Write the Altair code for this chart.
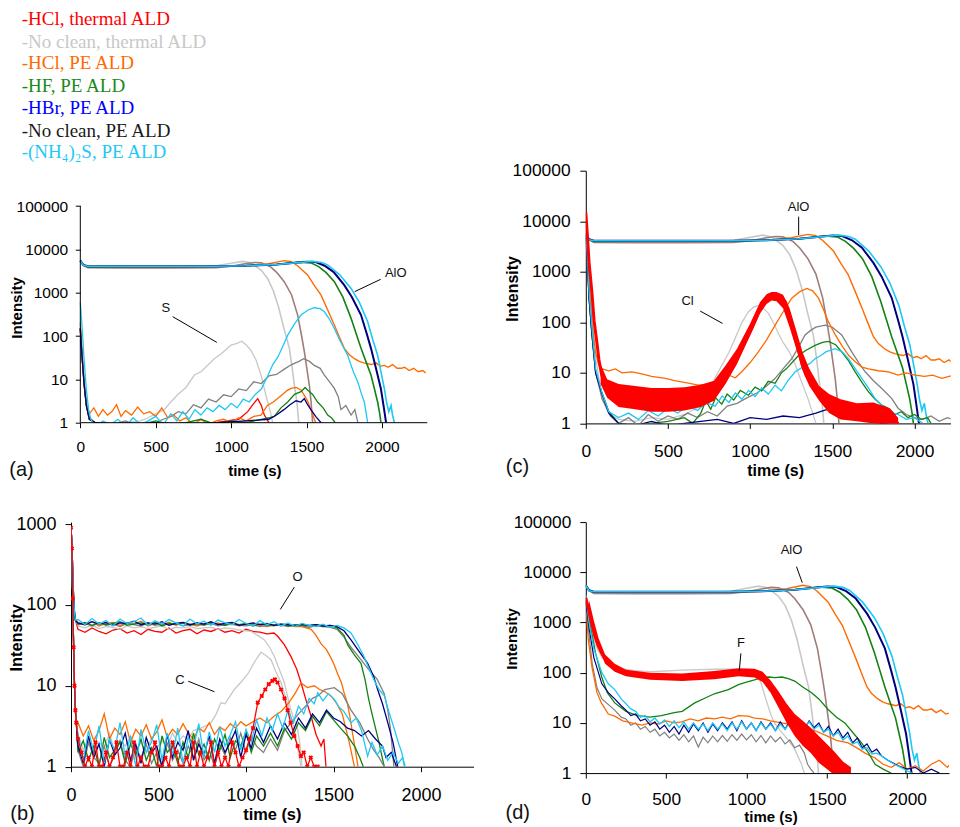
import altair as alt
import pandas as pd

SANS = "Liberation Sans"
SERIF = "Liberation Serif"

RED = "#ff0000"
LGRAY = "#c8c8c8"
ORANGE = "#ff6a00"
GREEN = "#128212"
NAVY = "#00007f"
GRAY = "#808080"
CYAN = "#1ec8f5"
BROWN = "#a07c7c"

LEGEND_LABELS = ["-HCl, thermal ALD", "-No clean, thermal ALD", "-HCl, PE ALD",
                 "-HF, PE ALD", "-HBr, PE ALD", "-No clean, PE ALD", "-(NH\u2084)\u2082S, PE ALD"]
LEGEND_COLORS = ["#ff0000", "#c8c8c8", "#ff6a00", "#1a8a1a", "#0000ff", "#1a1a1a", "#1ec8f5"]

TICKS_X = [0, 500, 1000, 1500, 2000]
TICKS_Y5 = [1, 10, 100, 1000, 10000, 100000]
TICKS_Y3 = [1, 10, 100, 1000]

# ---------------- AlO (same traces in panels a, c, d) ----------------
ALO_LGRAY_T = [0, 20, 50, 300, 600, 800, 900, 1000, 1076, 1130, 1200, 1242, 1280, 1314, 1350, 1386, 1405, 1419, 1436, 1448]
ALO_LGRAY_V = [5500, 4300, 3900, 3850, 3850, 3900, 4200, 4800, 5300, 4900, 3300, 2140, 1100, 470, 150, 52, 18, 7.4, 3, 1]
ALO_BROWN_T = [0, 20, 50, 300, 600, 900, 1000, 1100, 1154, 1200, 1260, 1300, 1352, 1400, 1441, 1465, 1485, 1505, 1518, 1530, 1540]
ALO_BROWN_V = [5500, 4300, 3800, 3750, 3750, 3800, 4100, 4700, 5000, 4900, 4000, 3000, 1800, 900, 305, 110, 44, 15, 7.4, 3, 1]
ALO_ORANGE_T = [0, 20, 50, 300, 600, 900, 1100, 1250, 1352, 1400, 1440, 1507, 1550, 1596, 1640, 1684, 1720, 1750, 1780, 1817,
                1850, 1880, 1905, 1930, 1960, 1990, 2016, 2040, 2070, 2100, 2126, 2150, 2180, 2210, 2240, 2270, 2290]
ALO_ORANGE_V = [5500, 4300, 4000, 4000, 4000, 4050, 4200, 4700, 5500, 5200, 4200, 2570, 1500, 880, 400, 180, 90, 52, 38, 30,
                26, 24, 23, 22, 24, 20, 21, 19, 22, 18, 18, 19, 16, 18, 15, 16, 14]
ALO_GREEN_T = [0, 20, 50, 300, 600, 900, 1100, 1300, 1450, 1529, 1580, 1630, 1684, 1740, 1795, 1830, 1861, 1895, 1927, 1950, 1971, 1985, 1993]
ALO_GREEN_V = [5500, 4300, 4000, 4050, 4050, 4100, 4200, 4500, 5100, 4900, 4000, 2900, 1800, 800, 256, 110, 52, 25, 12.6, 6, 3, 1.6, 1]
ALO_NAVY_T = [0, 20, 50, 300, 600, 900, 1100, 1300, 1500, 1560, 1620, 1680, 1750, 1800, 1861, 1900, 1927, 1960, 1993, 2010, 2027]
ALO_NAVY_V = [5500, 4400, 4100, 4100, 4100, 4100, 4200, 4500, 5200, 5100, 4200, 3000, 1500, 800, 305, 110, 52, 18, 6, 2.5, 1]
ALO_CYAN_T = [0, 20, 50, 300, 600, 900, 1100, 1300, 1540, 1600, 1640, 1720, 1795, 1850, 1905, 1940, 1971, 1995, 2016, 2030, 2045, 2060, 2070, 2082]
ALO_CYAN_V = [5500, 4300, 4100, 4100, 4100, 4100, 4200, 4500, 5300, 5000, 4400, 2600, 1260, 600, 214, 80, 36, 14, 6, 3, 1.8, 2.5, 1.5, 1]

# ---------------- (a) S ----------------
S_CYAN_T = [0, 10, 25, 40, 55, 70, 100, 150, 200, 250, 300, 350, 400, 450, 500, 550, 600, 640, 680, 720,
            760, 800, 840, 880, 920, 960, 1000, 1040, 1080, 1120, 1160, 1200, 1242, 1276, 1308, 1340, 1375, 1420, 1463, 1510,
            1551, 1590, 1618, 1650, 1684, 1720, 1772, 1810, 1839, 1865, 1883, 1905]
S_CYAN_V = [600, 200, 30, 6, 2, 1.2, 0.8, 1.1, 0.9, 1.2, 0.8, 1.3, 0.9, 1.1, 1.4, 0.9, 1.6, 1.1, 1.8, 1.2,
            2.0, 1.5, 2.2, 1.8, 2.5, 2.0, 2.8, 2.2, 3.5, 3.0, 4.5, 6, 12, 22, 32, 55, 105, 190, 305, 400,
            450, 430, 363, 250, 150, 80, 36, 15, 8.8, 4.5, 3, 1]
S_GRAY_T = [0, 10, 25, 40, 60, 100, 200, 300, 400, 500, 550, 600, 650, 700, 750, 800, 850, 900, 950, 1000,
            1050, 1100, 1150, 1200, 1250, 1300, 1350, 1400, 1450, 1480, 1520, 1551, 1590, 1618, 1650, 1684, 1710, 1728, 1760, 1795,
            1820, 1840]
S_GRAY_V = [150, 40, 8, 2.5, 1.3, 1, 0.9, 1.1, 0.8, 1, 1.2, 1.4, 1.8, 1.6, 2.6, 2.2, 3.5, 3, 4.4, 4,
            6, 5.5, 8.8, 8, 12, 13, 17, 22, 26, 30, 26, 21, 18, 12.6, 9, 6.2, 4, 2, 2.5, 1.5, 2, 1]
S_LGRAY_T = [0, 10, 25, 40, 60, 100, 200, 300, 400, 450, 500, 557, 600, 645, 700, 756, 800, 850, 888, 930,
             970, 999, 1040, 1070, 1100, 1131, 1165, 1198, 1220, 1242, 1260, 1275]
S_LGRAY_V = [150, 40, 8, 2.5, 1.3, 1, 0.9, 1, 1.1, 1.3, 1.6, 2, 3, 4.4, 6.5, 12.6, 15, 22, 30, 38,
             50, 62, 68, 76, 62, 47, 28, 12.6, 6, 3, 1.8, 1]
S_ORANGE_T = [0, 10, 25, 40, 60, 90, 120, 150, 180, 210, 240, 270, 300, 340, 380, 420, 460, 500, 540, 580,
              620, 660, 700, 750, 800, 850, 900, 950, 1000, 1050, 1100, 1150, 1198, 1240, 1280, 1308, 1340, 1370, 1397, 1430,
              1463, 1490, 1510, 1529, 1545, 1560]
S_ORANGE_V = [200, 60, 10, 3, 1.6, 2.2, 1.4, 2.0, 1.5, 1.8, 2.6, 1.4, 1.9, 1.5, 2.3, 1.6, 1.8, 1.4, 2.2, 1.3,
              1.5, 1.1, 1.3, 0.9, 1.2, 0.9, 1.1, 1.2, 1.0, 1.3, 1.1, 1.4, 1.5, 2.5, 3, 3.6, 4.5, 5.5, 6.2, 6.5,
              5.7, 4, 3, 2, 1.4, 1]
S_GREEN_T = [0, 10, 25, 40, 60, 100, 200, 300, 400, 500, 600, 700, 800, 900, 1000, 1100, 1200, 1250, 1286, 1330,
             1375, 1420, 1463, 1490, 1507, 1540, 1573, 1610, 1640, 1665, 1690]
S_GREEN_V = [150, 40, 8, 2.5, 1.2, 1, 0.9, 1, 0.9, 1.1, 0.9, 1, 1.2, 0.9, 1.1, 1, 1.2, 1.3, 1.4, 2.2,
             3, 4.5, 5.2, 6.5, 5.7, 4.5, 3, 2.2, 1.5, 1.3, 1]
S_NAVY_T = [0, 10, 25, 40, 60, 100, 300, 500, 700, 900, 1100, 1250, 1300, 1350, 1390, 1430, 1463, 1485, 1510, 1529, 1560, 1596]
S_NAVY_V = [150, 40, 8, 2.5, 1.2, 1, 0.9, 1, 0.9, 1, 1.1, 1.2, 1.5, 2, 2.6, 3.2, 3, 3.6, 2.5, 2, 1.4, 1]
S_RED_T = [0, 10, 25, 40, 60, 100, 300, 500, 700, 900, 1050, 1110, 1140, 1176, 1200, 1220, 1250]
S_RED_V = [150, 40, 8, 2.5, 1.2, 1, 0.9, 1, 0.9, 1, 1.2, 1.8, 2.5, 3.6, 2.5, 1.5, 1]

# ---------------- (c) Cl ----------------
CL_RED_T = [0, 10, 20, 37, 50, 67, 80, 97, 115, 138, 160, 190, 220, 250, 280, 320, 360, 400, 440, 483,
            520, 560, 600, 640, 685, 720, 760, 787, 820, 850, 887, 920, 949, 980, 1010, 1040, 1071, 1100, 1132, 1160,
            1192, 1215, 1233, 1255, 1274, 1295, 1315, 1340, 1375, 1410, 1450, 1479, 1500, 1550, 1598, 1650, 1700, 1750, 1800, 1850,
            1902]
CL_RED_V = [15000, 5000, 1500, 400, 110, 41, 18, 9, 6, 4.9, 4.2, 3.8, 3.5, 3.4, 3.1, 3.0, 2.8, 2.7, 2.5, 2.4,
            2.4, 2.5, 2.7, 2.9, 3.1, 3.5, 4.2, 5, 7, 10, 15, 22, 30, 48, 76, 130, 220, 290, 346, 340,
            320, 250, 162, 90, 48, 28, 15, 9, 5.5, 4, 3, 2.6, 2.3, 2, 1.8, 1.9, 2, 1.6, 1.5, 1.3, 1]
CL_RED_BAND_T = [90, 130, 200, 300, 400, 500, 600, 700, 780, 850, 920, 1000, 1060, 1100, 1130, 1160, 1200, 1240, 1280, 1320,
                 1360, 1420, 1480, 1550, 1650, 1750, 1850, 1900]
CL_RED_BAND_LO = [6, 3.2, 2.1, 1.9, 1.7, 1.7, 1.8, 2.1, 2.8, 6, 15, 55, 150, 230, 270, 260, 190, 80, 30, 11,
                  5.5, 2.8, 1.6, 1.2, 1.1, 1, 0.9, 0.8]
CL_RED_BAND_HI = [15, 7.5, 6, 5.5, 5, 5, 5.2, 5.8, 7, 14, 30, 95, 250, 360, 400, 400, 350, 190, 70, 25,
                  12, 5.5, 3.8, 3, 2.5, 2.6, 2, 1.3]
CL_LGRAY_T = [0, 10, 20, 37, 60, 100, 150, 200, 300, 400, 500, 600, 700, 750, 787, 827, 870, 908, 950, 990,
              1020, 1050, 1080, 1111, 1140, 1172, 1200, 1233, 1273, 1310, 1350, 1380, 1400]
CL_LGRAY_V = [8000, 3000, 800, 150, 20, 3, 1.5, 1.2, 1.1, 1.3, 1.2, 1.5, 2.2, 4, 8, 14, 25, 48, 100, 162,
              200, 215, 190, 150, 100, 60, 40, 28, 15, 7, 3.2, 1.6, 1]
CL_ORANGE_T = [0, 10, 20, 37, 60, 80, 100, 140, 180, 220, 280, 340, 400, 483, 540, 600, 685, 740, 790, 827,
               870, 910, 949, 1000, 1050, 1100, 1152, 1200, 1253, 1300, 1345, 1380, 1416, 1446, 1476, 1520, 1557, 1600, 1639, 1680,
               1720, 1780, 1841, 1900, 1950, 2004, 2060, 2110, 2166, 2210, 2247, 2270, 2288]
CL_ORANGE_V = [8000, 2500, 600, 100, 25, 14, 12, 11, 12, 10, 10.5, 9.5, 8.5, 7.8, 7, 6.5, 5.7, 6, 6.7, 7,
               9, 8, 10.5, 16, 26, 45, 88, 160, 300, 400, 470, 420, 300, 180, 103, 55, 35, 22, 16.6, 13,
               12, 11, 10.5, 9, 10, 9, 8.5, 9, 7.8, 8.5, 9, 6, 2.3]
CL_GRAY_T = [0, 10, 20, 37, 60, 100, 150, 200, 260, 320, 380, 440, 500, 560, 620, 680, 740, 800, 860, 920,
             980, 1040, 1100, 1152, 1200, 1253, 1300, 1334, 1370, 1400, 1456, 1500, 1557, 1618, 1660, 1700, 1750, 1801, 1862, 1900,
             1950, 2000, 2050, 2100, 2150, 2200, 2230]
CL_GRAY_V = [5000, 1500, 300, 60, 10, 3, 1.4, 1, 1.3, 0.9, 1.5, 1.1, 1.4, 1.2, 1.6, 1.3, 1.7, 1.4, 2.2, 2.5,
             3.2, 4, 5.5, 7.8, 12, 19, 35, 56, 70, 80, 88, 80, 56, 26, 16, 10.5, 7, 4.9, 3.1, 2,
             1.5, 1.3, 1.2, 1.4, 1.1, 1.3, 1.2]
CL_GREEN_T = [0, 10, 20, 37, 60, 97, 140, 200, 300, 400, 500, 600, 650, 700, 730, 760, 790, 827, 860, 900,
              940, 990, 1030, 1070, 1110, 1152, 1190, 1220, 1294, 1340, 1395, 1440, 1476, 1520, 1557, 1600, 1639, 1680, 1720, 1760,
              1801, 1840, 1880, 1920, 1960, 2000, 2040, 2080, 2100]
CL_GREEN_V = [5000, 1500, 300, 60, 10, 4.2, 1.7, 1, 0.9, 1, 1.1, 1.3, 1.0, 1.6, 2.8, 1.9, 3.2, 2.4, 3.8, 2.9,
              4.5, 3.6, 5.2, 4.4, 6.8, 6.2, 10, 12, 22, 28, 35, 40, 42, 36, 26, 17, 10.5, 6.5, 4.2, 3,
              2.3, 2, 1.5, 1.7, 1.3, 1.5, 1.2, 1.3, 1]
CL_CYAN_T = [0, 10, 20, 37, 60, 97, 140, 200, 260, 320, 380, 440, 500, 560, 620, 680, 730, 787, 830, 870,
             910, 950, 990, 1030, 1070, 1110, 1152, 1190, 1230, 1274, 1320, 1360, 1395, 1430, 1460, 1517, 1560, 1598, 1640, 1679,
             1720, 1760, 1800, 1841, 1900, 1950, 2000, 2050]
CL_CYAN_V = [6000, 2000, 400, 80, 12, 4.2, 1.7, 1.3, 1.6, 1.2, 1.8, 1.4, 2, 1.6, 2.2, 1.8, 2.6, 2.2, 3.5, 2.6,
             4, 3, 4.5, 3.4, 5, 3.8, 5.7, 4.4, 7, 10.5, 13, 15, 19, 22, 26, 30, 26, 19, 12, 7.8,
             5, 3.1, 2.3, 1.7, 1.5, 1.2, 1.3, 1]
CL_NAVY_T = [0, 10, 20, 37, 60, 97, 140, 200, 300, 400, 500, 600, 700, 800, 900, 1000, 1100, 1200, 1300, 1400,
             1450, 1500, 1550, 1600, 1650, 1700, 1800, 1900]
CL_NAVY_V = [5000, 1500, 300, 60, 10, 4, 1.6, 1, 0.9, 1.1, 0.9, 1, 1.1, 1.2, 1, 1.3, 1.2, 1.4, 1.3, 1.6,
             1.8, 2, 1.7, 1.5, 1.3, 1.2, 1, 0.9]

# ---------------- (d) F ----------------
F_RED_T = [0, 15, 35, 55, 77, 100, 139, 180, 222, 300, 388, 450, 500, 596, 650, 700, 803, 860, 928, 969,
           1011, 1050, 1094, 1135, 1156, 1200, 1250, 1301, 1350, 1400, 1450, 1500, 1550, 1600, 1650, 1700]
F_RED_V = [3100, 2000, 1000, 550, 340, 240, 158, 125, 108, 95, 86, 84, 82, 80, 81, 84, 88, 92, 100, 105,
           103, 98, 86, 60, 50, 28, 15, 8.7, 6, 4, 3, 2, 1.4, 1.1, 0.9, 0.8]
F_RED_BAND_T = [20, 50, 80, 120, 180, 250, 400, 600, 800, 950, 1050, 1100, 1150, 1200, 1250, 1300, 1350, 1400, 1450, 1500,
                1550, 1600, 1650]
F_RED_BAND_LO = [1400, 600, 300, 150, 105, 85, 72, 68, 74, 85, 80, 65, 40, 20, 10, 5.5, 3.5, 2.5, 1.6, 1.2,
                 0.9, 0.8, 0.8]
F_RED_BAND_HI = [2800, 1100, 480, 230, 150, 115, 100, 96, 108, 122, 120, 105, 70, 42, 24, 15, 11, 8, 5.5, 3.8,
                 2.6, 1.7, 1.3]
F_LGRAY_T = [0, 15, 35, 60, 100, 150, 200, 300, 400, 500, 600, 700, 800, 900, 960, 1011, 1060, 1092, 1120, 1150,
             1174, 1210, 1250, 1300, 1342, 1360]
F_LGRAY_V = [2500, 1500, 700, 350, 200, 150, 125, 110, 105, 108, 112, 115, 117, 118, 116, 110, 100, 60, 30, 15,
             10, 7, 5, 3, 1.5, 1]
F_GREEN_T = [0, 30, 60, 100, 134, 180, 250, 320, 400, 471, 550, 600, 678, 750, 800, 887, 950, 1000, 1050, 1093,
             1140, 1176, 1220, 1260, 1300, 1350, 1405, 1450, 1508, 1560, 1612, 1660, 1716, 1760, 1800, 1850, 1900]
F_GREEN_V = [2500, 800, 250, 80, 40, 25, 17, 14, 13, 14, 16, 17, 25, 32, 38, 46, 58, 65, 72, 80,
             82, 80, 82, 76, 68, 52, 40, 30, 18.5, 13, 10, 6.5, 4, 2.5, 1.5, 1.2, 1]
F_ORANGE_T = [0, 15, 40, 70, 97, 140, 180, 230, 284, 350, 400, 450, 500, 550, 596, 650, 700, 750, 803, 850,
              900, 950, 1011, 1050, 1100, 1150, 1218, 1260, 1300, 1350, 1425, 1500, 1560, 1633, 1700, 1737, 1800, 1850, 1900, 1950,
              2000, 2050, 2100, 2150, 2200, 2250, 2275]
F_ORANGE_V = [3000, 460, 120, 40, 25, 15, 13.6, 11, 10, 9, 10, 9.5, 11, 10, 10.5, 12, 11, 12.5, 12, 13,
              12, 14, 13.6, 12.5, 12, 11, 10, 9.5, 9, 8, 7, 5.5, 4.5, 4, 3, 2.5, 2, 1.5, 1.3, 1.6,
              1.2, 1.4, 1.1, 1.5, 1.8, 1.3, 1.6]
F_NOISE_T0, F_NOISE_STEP = 250, 30
F_GRAY_START_T = [0, 15, 40, 70, 100, 180, 220]
F_GRAY_START_V = [3000, 800, 150, 50, 30, 18, 13]
F_GRAY_NOISE = [12, 9, 10, 7.5, 8.5, 6.5, 7.5, 5.5, 6.5, 5, 6, 4.5, 5.8, 4.2, 5.5, 3.3, 5.2, 4, 5.5, 4.2,
                5.6, 4.3, 5.8, 4.5, 6, 4.6, 5.8, 4.2, 5.6, 4, 5.5, 4.2, 5.2, 3.8, 4.6, 3.2, 3.6]
F_GRAY_TAIL_T = [1360, 1380, 1400, 1420]
F_GRAY_TAIL_V = [2.5, 1.5, 1.2, 1]
F_NAVY_START_T = [0, 20, 50, 100, 140, 180, 220]
F_NAVY_START_V = [2500, 800, 200, 60, 40, 30, 22]
F_NAVY_NOISE = [18, 14, 15, 11, 12, 9, 10.5, 7.5, 9, 6.5, 8.5, 6, 9, 6.5, 9.5, 7, 10, 6.5, 9.5, 7,
                10, 7.5, 10.5, 7, 11, 7.5, 10, 7, 10.5, 7.5, 10, 7, 10.5, 7.5, 11, 8, 11.5, 7.5, 11, 8,
                10, 6.5, 8.5, 5.5, 7.5, 5, 6.5, 4, 5, 3.2, 3.8, 2.6, 3]
F_NAVY_TAIL_T = [1840, 1880, 1944, 2000, 2050, 2100, 2150, 2200]
F_NAVY_TAIL_V = [2.2, 1.8, 1.4, 1.2, 1.3, 1, 1.2, 1]
F_CYAN_START_T = [0, 20, 50, 100, 140, 180, 220]
F_CYAN_START_V = [3500, 1000, 300, 100, 60, 46, 30]
F_CYAN_NOISE = [24, 19, 17, 13, 14, 10.5, 12.5, 9.5, 11.5, 8.5, 11, 8, 10.5, 7.5, 10, 7.5, 9.5, 7, 10, 7.5,
                9.5, 7, 10, 7.5, 10.5, 7.5, 10, 7, 10, 7.5, 9.5, 7, 9.5, 7.5, 10, 7.5, 10, 8, 10.5, 7.5,
                9, 6.5, 7.5, 5.5, 6.5, 4.5, 5.5, 3.8, 4.2, 3, 3.2, 2.4, 2.5]
F_CYAN_TAIL_T = [1840, 1880, 1920, 1960, 2000, 2030]
F_CYAN_TAIL_V = [2.2, 1.8, 1.5, 1.3, 1.1, 1]

# ---------------- (b) O and C ----------------
O_START_T = [0, 5, 10, 15, 20, 25]
O_START_V = [900, 600, 250, 120, 80, 65]
O_FLAT_T0, O_FLAT_STEP = 40, 40
O_RED_FLAT = [50, 46, 52, 47, 44, 49, 51, 45, 48, 43, 50, 47, 46, 52, 45, 48, 50, 44, 49, 47, 51, 46, 48, 45, 50, 47, 46, 44, 45]
O_RED_TAIL_T = [1181, 1220, 1257, 1290, 1314, 1340, 1372, 1400, 1429, 1445, 1457]
O_RED_TAIL_V = [41, 32, 23, 16, 11, 7, 4.2, 2.5, 1.8, 2.2, 1]
O_LGRAY_FLAT = [55, 52, 56, 51, 54, 53, 50, 55, 52, 54, 51, 53, 55, 50, 53, 52, 54, 51, 52, 53, 50, 52, 51, 49, 48]
O_LGRAY_TAIL_T = [1029, 1067, 1105, 1135, 1162, 1190, 1219, 1240, 1257, 1275, 1295, 1310, 1320]
O_LGRAY_TAIL_V = [47, 42, 37, 30, 23, 16, 11, 7, 5, 3.8, 2.9, 1.8, 1]
O_ORANGE_FLAT = [60, 57, 62, 55, 59, 61, 56, 60, 58, 63, 55, 59, 57, 61, 56, 60, 58, 55, 59, 57, 60, 56, 58, 55, 57, 59, 56, 54, 57, 55, 56, 54]
O_ORANGE_TAIL_T = [1320, 1372, 1400, 1429, 1460, 1486, 1505, 1524, 1545, 1562, 1580, 1595, 1610, 1625, 1640]
O_ORANGE_TAIL_V = [54, 50, 42, 33, 28, 22, 18, 14, 11, 8, 6, 4, 2.5, 1.6, 1]
O_GREEN_FLAT = [58, 61, 56, 60, 57, 59, 62, 56, 58, 60, 57, 61, 55, 59, 58, 60, 56, 59, 57, 61, 58, 56, 60, 57, 59, 55, 58, 57, 56, 58, 55, 57, 56, 55, 57, 54, 56]
O_GREEN_TAIL_T = [1520, 1560, 1581, 1620, 1657, 1680, 1700, 1720, 1740, 1760, 1775, 1790]
O_GREEN_TAIL_V = [52, 42, 32, 24, 19, 12, 7, 4.5, 3, 2, 1.4, 1]
O_GRAY_FLAT = [57, 59, 55, 60, 56, 58, 54, 59, 57, 55, 60, 56, 58, 57, 59, 55, 57, 58, 56, 59, 55, 57, 58, 56, 55, 57, 54, 56, 55, 57, 54, 56, 55, 53, 55, 54, 53]
O_GRAY_TAIL_T = [1520, 1560, 1600, 1650, 1700, 1750, 1790, 1810, 1825, 1838, 1845]
O_GRAY_TAIL_V = [50, 40, 30, 22, 16, 12, 8, 5, 3, 1.5, 1]
O_NAVY_FLAT = [60, 57, 62, 58, 61, 56, 60, 59, 63, 57, 60, 58, 62, 56, 59, 61, 57, 60, 58, 62, 57, 59, 61, 56, 58, 60, 57, 59, 56, 58, 57, 55, 58, 56, 57, 55, 56]
O_NAVY_TAIL_T = [1520, 1560, 1600, 1650, 1695, 1730, 1752, 1780, 1810, 1840, 1867]
O_NAVY_TAIL_V = [54, 48, 37, 26, 19, 13, 9, 6, 3.5, 2, 1]
O_CYAN_FLAT = [66, 57, 68, 58, 64, 55, 67, 59, 62, 69, 56, 64, 58, 66, 60, 55, 67, 58, 63, 56,
               65, 60, 57, 66, 59, 55, 64, 57, 62, 55, 60, 54, 59, 56, 54, 58, 53]
O_CYAN_TAIL_T = [1520, 1560, 1600, 1640, 1670, 1695, 1730, 1760, 1791, 1820, 1848, 1870, 1890, 1905]
O_CYAN_TAIL_V = [56, 52, 45, 32, 24, 18, 12, 9, 7.5, 4.5, 2.9, 2, 1.5, 1]

C_START_T = [0, 5, 10, 15, 20, 25, 30]
C_START_V = [900, 500, 120, 30, 10, 5, 3.5]
C_NOISE_T0 = 40
C_ORANGE_NOISE = [3.5, 2.4, 3.2, 2.1, 2.8, 4.5, 2.2, 3.0, 2.5, 3.6, 2.0, 2.9, 2.4, 3.3, 2.2, 2.7, 3.8, 2.3, 2.9, 2.5, 3.4, 2.6, 2.2, 3.0, 2.7, 3.5, 2.5, 3.1, 2.8, 3.4, 3.0, 3.6, 3.2]
C_ORANGE_TAIL_T = [1040, 1080, 1120, 1160, 1200, 1240, 1280, 1314, 1350, 1390, 1420, 1450, 1486, 1520, 1550, 1570, 1590, 1605, 1620]
C_ORANGE_TAIL_V = [3.6, 4, 3.5, 4.2, 4.8, 6, 8, 10.9, 9.5, 10, 9, 8.5, 7.5, 6, 4.5, 3, 2, 1.4, 1]
C_LGRAY_NOISE = [2.5, 1.6, 2.2, 1.4, 2.0, 1.7, 2.6, 1.5, 2.1, 1.8, 2.4, 1.6, 2.0, 1.5, 2.3, 1.7, 2.1, 1.8, 2.6, 2.0, 2.4, 2.2, 2.8]
C_LGRAY_TAIL_T = [740, 770, 800, 830, 857, 880, 900, 933, 970, 1010, 1050, 1086, 1110, 1143, 1170, 1200, 1238, 1276, 1300, 1314]
C_LGRAY_TAIL_V = [3, 3.2, 3.5, 4.5, 6.2, 6, 7, 9, 11, 14, 20, 26, 24, 21, 15, 11, 6, 2.9, 1.5, 1]
C_RED_NOISE = [2.2, 1.5, 1, 1.3, 1, 2, 1, 1, 1.5, 1, 1.3, 2, 1, 1, 1.5, 1, 2, 1, 1.3, 1,
               1, 1.5, 2, 1, 1, 1.3, 1, 2, 1.5, 1, 1, 1.3, 1, 2, 1, 1.5, 1, 1.3, 2, 1,
               1.5, 1, 1.3, 1, 2, 1.5, 1, 1.3, 1.6]
C_RED_TAIL_T = [1020, 1040, 1067, 1090, 1110, 1130, 1150, 1165, 1180, 1200, 1220, 1238, 1255, 1276, 1295, 1314, 1330, 1350, 1370, 1390, 1410]
C_RED_TAIL_V = [2.2, 3, 6.2, 7.5, 9, 10.5, 11.5, 12, 11, 9, 7, 5, 3.5, 2.4, 1.8, 1.35, 1.5, 1, 1.3, 1, 1]
C_CYAN_NOISE = [2.5, 1.2, 2.8, 1.5, 3.2, 1.1, 2.2, 1.6, 3.5, 1.3, 2.4, 1.0, 2.9, 1.5, 2.0, 3.3, 1.2, 2.6, 1.4, 3.0,
                1.1, 2.3, 1.7, 3.4, 1.3, 2.7, 1.5, 3.1, 1.8, 2.5, 3.6, 1.6, 2.9, 2.0, 3.8]
C_CYAN_TAIL_T = [1090, 1120, 1150, 1180, 1210, 1240, 1270, 1300, 1330, 1360, 1390, 1410, 1440, 1470, 1505, 1530, 1560, 1600, 1630, 1660,
                 1695, 1720, 1750, 1780, 1810, 1840, 1870, 1895, 1910]
C_CYAN_TAIL_V = [2.4, 4, 2.8, 4.5, 3, 5, 3.5, 5.6, 4.5, 7, 6, 8.2, 6.5, 8, 6.8, 5.5, 4.8, 3.5, 4, 2.8,
                 1.35, 2, 1.4, 1.8, 1.2, 1.5, 1.1, 1.3, 1]
C_NAVY_NOISE = [1.8, 1.1, 2.4, 1.3, 1.9, 1.0, 2.2, 1.4, 1.7, 2.6, 1.2, 1.9, 1.1, 2.3, 1.5, 1.8, 1.0, 2.5, 1.3, 2.0,
                1.6, 2.8, 1.2, 1.9, 1.4, 2.4, 1.1, 2.2, 1.5, 2.0, 2.8, 1.3, 2.5, 1.7, 3.0]
C_NAVY_TAIL_T = [1100, 1140, 1180, 1220, 1260, 1300, 1340, 1380, 1420, 1460, 1500, 1540, 1580, 1620, 1660, 1700, 1740, 1780, 1800, 1830, 1860]
C_NAVY_TAIL_V = [2, 3.2, 2.2, 3.5, 2.5, 4, 3, 4.5, 3.5, 5, 4, 3.6, 3, 2.8, 2.4, 2.8, 2.2, 1.8, 1.3, 1.5, 1]
C_GREEN_NOISE = [1.5, 2.1, 1.2, 1.8, 1.0, 2.3, 1.3, 1.6, 2.0, 1.1, 1.9, 1.4, 2.2, 1.2, 1.7, 1.0, 2.4, 1.5, 1.8, 1.1,
                 2.0, 1.3, 2.6, 1.4, 1.9, 1.2, 2.2, 1.6, 2.5, 1.3, 2.1, 1.8, 2.7, 1.5, 2.4]
C_GREEN_TAIL_T = [1100, 1140, 1180, 1220, 1260, 1300, 1340, 1380, 1420, 1460, 1500, 1540, 1580, 1620, 1650, 1670]
C_GREEN_TAIL_V = [1.8, 2.6, 1.8, 3, 2.2, 3.5, 2.8, 4.2, 3.2, 4.8, 3.8, 3, 2.4, 1.8, 1.3, 1]
C_GRAY_NOISE = [1.6, 1.0, 2.0, 1.3, 1.1, 1.8, 1.0, 1.4, 2.1, 1.2, 1.0, 1.7, 1.3, 1.9, 1.1, 1.5, 1.0, 2.0, 1.2, 1.6,
                1.1, 1.8, 1.3, 2.2, 1.2, 1.6, 1.0, 1.9, 1.4, 2.3, 1.6, 2.6, 1.5, 2.4, 1.8]
C_GRAY_TAIL_T = [1100, 1140, 1180, 1220, 1260, 1300, 1340, 1380, 1410, 1450, 1505, 1550, 1600, 1650, 1695, 1730, 1760, 1790]
C_GRAY_TAIL_V = [1.5, 2.2, 1.6, 2.8, 3.5, 4.5, 5.6, 7, 7.5, 9, 9.5, 8, 5, 3.5, 2.2, 1.6, 1.3, 1]

# ---------------- annotations (data coordinates) ----------------
ANNOT_A = [("S", 567, 453), ("AlO", 2091, 2911)]
LEAD_A = [(612, 281, 905, 71.5), (1991, 2040, 1819, 1060)]
ANNOT_C = [("AlO", 1295, 19450), ("Cl", 619, 268)]
LEAD_C = [(1295, 12330, 1295, 5325), (696, 167, 832, 95)]
ANNOT_B = [("O", 1295, 223), ("C", 623, 11.8)]
LEAD_B = [(1276, 166, 1196, 88), (670, 11.4, 819, 8.46)]
ANNOT_D = [("AlO", 1280, 27300), ("F", 965, 384)]
LEAD_D = [(1311, 12940, 1347, 6210), (965, 243, 955, 108)]
AXIS_LINES_A = [(0, 1, 0, 100000), (0, 1, 2300, 1)]


def pairs(t, v):
    assert len(t) == len(v), (len(t), len(v))
    return list(zip(t, v))


def grid(t0, step, vals):
    return [(t0 + step * i, v) for i, v in enumerate(vals)]


def frame(points):
    return pd.DataFrame(points, columns=["t", "v"])


def band(t, lo, hi):
    assert len(t) == len(lo) == len(hi)
    return pd.DataFrame({"t": t, "v": lo, "v2": hi})


ALO_LINES = [
    (pairs(ALO_LGRAY_T, ALO_LGRAY_V), LGRAY, 1.6),
    (pairs(ALO_BROWN_T, ALO_BROWN_V), BROWN, 1.6),
    (pairs(ALO_ORANGE_T, ALO_ORANGE_V), ORANGE, 1.4),
    (pairs(ALO_GREEN_T, ALO_GREEN_V), GREEN, 1.6),
    (pairs(ALO_NAVY_T, ALO_NAVY_V), NAVY, 2.0),
    (pairs(ALO_CYAN_T, ALO_CYAN_V), CYAN, 1.6),
]


def o_series(flat, tt, tv):
    return pairs(O_START_T, O_START_V) + grid(O_FLAT_T0, O_FLAT_STEP, flat) + pairs(tt, tv)


def c_series(noise, step, tt, tv):
    return pairs(C_START_T, C_START_V) + grid(C_NOISE_T0, step, noise) + pairs(tt, tv)


def f_series(st, sv, noise, tt, tv):
    return pairs(st, sv) + grid(F_NOISE_T0, F_NOISE_STEP, noise) + pairs(tt, tv)


C_RED_SERIES = c_series(C_RED_NOISE, 20, C_RED_TAIL_T, C_RED_TAIL_V)

PANELS = {
    "a": dict(
        xdom=[-61.65, 2604.6], ydom=[1, 10 ** 5.8172], width=402.2, height=252.0,
        yticks=TICKS_Y5, lfs=15.5, tfs=15, xlp=24, yts=5, ylp=7.6,
        ytx=-59.1, yty=136.7, yoff=-9.3, xtx=183.3, xty=52.5, axis_line=False,
        lines=ALO_LINES + [
            (pairs(S_LGRAY_T, S_LGRAY_V), LGRAY, 1.3),
            (pairs(S_GRAY_T, S_GRAY_V), GRAY, 1.3),
            (pairs(S_RED_T, S_RED_V), RED, 1.3),
            (pairs(S_ORANGE_T, S_ORANGE_V), ORANGE, 1.3),
            (pairs(S_GREEN_T, S_GREEN_V), GREEN, 1.3),
            (pairs(S_NAVY_T, S_NAVY_V), NAVY, 1.3),
            (pairs(S_CYAN_T, S_CYAN_V), CYAN, 1.3),
        ],
        bands=[], marks=[], annot=ANNOT_A, lead=LEAD_A,
        label=("(a)", -61.7, 305.2),
    ),
    "c": dict(
        xdom=[0, 2220], ydom=[1, 100000], width=364.9, height=252.7,
        yticks=TICKS_Y5, lfs=17.4, tfs=16, xlp=28, yts=6, ylp=9.7,
        ytx=-68.1, yty=117.7, yoff=0, xtx=189.3, xty=52, axis_line=True,
        lines=ALO_LINES + [
            (pairs(CL_LGRAY_T, CL_LGRAY_V), LGRAY, 1.3),
            (pairs(CL_GRAY_T, CL_GRAY_V), GRAY, 1.3),
            (pairs(CL_ORANGE_T, CL_ORANGE_V), ORANGE, 1.3),
            (pairs(CL_GREEN_T, CL_GREEN_V), GREEN, 1.3),
            (pairs(CL_NAVY_T, CL_NAVY_V), NAVY, 1.3),
            (pairs(CL_CYAN_T, CL_CYAN_V), CYAN, 1.3),
            (pairs(CL_RED_T, CL_RED_V), RED, 3.0),
        ],
        bands=[(band(CL_RED_BAND_T, CL_RED_BAND_LO, CL_RED_BAND_HI), RED)],
        marks=[], annot=ANNOT_C, lead=LEAD_C,
        label=("(c)", -80, 302.3),
    ),
    "b": dict(
        xdom=[0, 2300], ydom=[1, 10 ** 3.0247], width=402.5, height=244.6,
        yticks=TICKS_Y3, lfs=18, tfs=16.4, xlp=28.7, yts=6, ylp=9,
        ytx=-49.5, yty=115.3, yoff=0, xtx=200.8, xty=52.6, axis_line=True,
        lines=[
            (o_series(O_RED_FLAT, O_RED_TAIL_T, O_RED_TAIL_V), RED, 1.3),
            (o_series(O_LGRAY_FLAT, O_LGRAY_TAIL_T, O_LGRAY_TAIL_V), LGRAY, 1.3),
            (o_series(O_ORANGE_FLAT, O_ORANGE_TAIL_T, O_ORANGE_TAIL_V), ORANGE, 1.3),
            (o_series(O_GRAY_FLAT, O_GRAY_TAIL_T, O_GRAY_TAIL_V), GRAY, 1.3),
            (o_series(O_GREEN_FLAT, O_GREEN_TAIL_T, O_GREEN_TAIL_V), GREEN, 1.3),
            (o_series(O_NAVY_FLAT, O_NAVY_TAIL_T, O_NAVY_TAIL_V), NAVY, 1.3),
            (o_series(O_CYAN_FLAT, O_CYAN_TAIL_T, O_CYAN_TAIL_V), CYAN, 1.3),
            (c_series(C_LGRAY_NOISE, 30, C_LGRAY_TAIL_T, C_LGRAY_TAIL_V), LGRAY, 1.3),
            (c_series(C_ORANGE_NOISE, 30, C_ORANGE_TAIL_T, C_ORANGE_TAIL_V), ORANGE, 1.3),
            (c_series(C_GRAY_NOISE, 30, C_GRAY_TAIL_T, C_GRAY_TAIL_V), GRAY, 1.3),
            (c_series(C_GREEN_NOISE, 30, C_GREEN_TAIL_T, C_GREEN_TAIL_V), GREEN, 1.3),
            (c_series(C_NAVY_NOISE, 30, C_NAVY_TAIL_T, C_NAVY_TAIL_V), NAVY, 1.3),
            (c_series(C_CYAN_NOISE, 30, C_CYAN_TAIL_T, C_CYAN_TAIL_V), CYAN, 1.3),
            (C_RED_SERIES, RED, 1.3),
        ],
        bands=[], marks=[(C_RED_SERIES, RED)], annot=ANNOT_B, lead=LEAD_B,
        label=("(b)", -60.7, 298.3),
    ),
    "d": dict(
        xdom=[0, 2260], ydom=[1, 100000], width=363.2, height=251.0,
        yticks=TICKS_Y5, lfs=17.3, tfs=15, xlp=26.5, yts=6, ylp=9,
        ytx=-69.3, yty=116.3, yoff=0, xtx=184.7, xty=48.5, axis_line=True,
        lines=ALO_LINES + [
            (pairs(F_LGRAY_T, F_LGRAY_V), LGRAY, 1.3),
            (f_series(F_GRAY_START_T, F_GRAY_START_V, F_GRAY_NOISE, F_GRAY_TAIL_T, F_GRAY_TAIL_V), GRAY, 1.2),
            (pairs(F_ORANGE_T, F_ORANGE_V), ORANGE, 1.3),
            (pairs(F_GREEN_T, F_GREEN_V), GREEN, 1.3),
            (f_series(F_NAVY_START_T, F_NAVY_START_V, F_NAVY_NOISE, F_NAVY_TAIL_T, F_NAVY_TAIL_V), NAVY, 1.2),
            (f_series(F_CYAN_START_T, F_CYAN_START_V, F_CYAN_NOISE, F_CYAN_TAIL_T, F_CYAN_TAIL_V), CYAN, 1.3),
            (pairs(F_RED_T, F_RED_V), RED, 3.0),
        ],
        bands=[(band(F_RED_BAND_T, F_RED_BAND_LO, F_RED_BAND_HI), RED)],
        marks=[], annot=ANNOT_D, lead=LEAD_D,
        label=("(d)", -80.3, 296.6),
    ),
}


def build(key):
    p = PANELS[key]
    xaxis = alt.Axis(
        values=TICKS_X, format="d", title="time (s)", grid=False,
        domain=p["axis_line"], domainColor="black", domainWidth=1,
        ticks=True, tickSize=5, tickColor="black", tickWidth=1,
        labelFont=SANS, labelFontSize=p["lfs"], labelColor="black",
        labelPadding=p["xlp"], labelBaseline="alphabetic", labelFlush=False, labelOverlap=False,
        titleFont=SANS, titleFontSize=p["tfs"], titleFontWeight="bold", titleColor="black",
        titleBaseline="alphabetic", titleAlign="center", titleX=p["xtx"], titleY=p["xty"],
    )
    yaxis = alt.Axis(
        values=p["yticks"], format="d", title="Intensity", grid=False,
        domain=p["axis_line"], domainColor="black", domainWidth=1,
        ticks=True, tickSize=p["yts"], tickColor="black", tickWidth=1,
        labelFont=SANS, labelFontSize=p["lfs"], labelColor="black",
        labelPadding=p["ylp"], labelOverlap=False, labelFlush=False,
        titleFont=SANS, titleFontSize=p["tfs"], titleFontWeight="bold", titleColor="black",
        titleAngle=270, titleAlign="center", titleBaseline="alphabetic",
        titleX=p["ytx"], titleY=p["yty"], offset=p["yoff"],
    )
    xs = alt.X("t:Q", scale=alt.Scale(domain=p["xdom"], nice=False, zero=False), axis=xaxis)
    ys = alt.Y("v:Q", scale=alt.Scale(type="log", domain=p["ydom"], nice=False), axis=yaxis)

    layers = []
    for pts_, color, sw in p["lines"][:len(p["lines"]) - (1 if p["bands"] else 0)]:
        layers.append(alt.Chart(frame(pts_)).mark_line(color=color, strokeWidth=sw, clip=True).encode(x=xs, y=ys))
    for bdf, color in p["bands"]:
        layers.append(alt.Chart(bdf).mark_area(color=color, opacity=1, clip=True).encode(x=xs, y=ys, y2="v2"))
    if p["bands"]:
        pts_, color, sw = p["lines"][-1]
        layers.append(alt.Chart(frame(pts_)).mark_line(color=color, strokeWidth=sw, clip=True).encode(x=xs, y=ys))
    for pts_, color in p["marks"]:
        layers.append(alt.Chart(frame(pts_)).mark_point(shape="cross", angle=45, size=22, filled=True,
                                                       color=color, opacity=1, clip=True).encode(x=xs, y=ys))
    if not p["axis_line"]:
        adf = pd.DataFrame(AXIS_LINES_A, columns=["t", "v", "t2", "v2"])
        layers.append(alt.Chart(adf).mark_rule(color="black", strokeWidth=1).encode(x=xs, y=ys, x2="t2", y2="v2"))
    ldf = pd.DataFrame(p["lead"], columns=["t", "v", "t2", "v2"])
    layers.append(alt.Chart(ldf).mark_rule(color="black", strokeWidth=1).encode(x=xs, y=ys, x2="t2", y2="v2"))
    tdf = pd.DataFrame(p["annot"], columns=["txt", "t", "v"])
    layers.append(alt.Chart(tdf).mark_text(font=SANS, fontSize=13, color="#111", align="center", baseline="middle")
                  .encode(x=xs, y=ys, text="txt:N"))
    one = pd.DataFrame({"k": [0]})
    lab, lx, ly = p["label"]
    layers.append(alt.Chart(one).mark_text(text=lab, x=lx, y=ly, font=SANS, fontSize=20, color="#111",
                                           align="left", baseline="alphabetic"))
    if key == "a":
        baselines = [-145.6, -123.0, -101.3, -78.3, -56.3, -34.0, -12.3]
        for text, color, by in zip(LEGEND_LABELS, LEGEND_COLORS, baselines):
            layers.append(alt.Chart(one).mark_text(text=text, x=-49.3, y=by, font=SERIF, fontSize=19,
                                                   color=color, align="left", baseline="alphabetic"))
    return alt.layer(*layers).properties(width=p["width"], height=p["height"])


chart = alt.concat(
    build("a"), build("c"), build("b"), build("d"),
    columns=2, align="none", bounds="flush",
    spacing={"row": 98.4, "column": 111.8},
).properties(
    padding={"left": 0, "top": 1.7, "right": 0, "bottom": 0},
).configure_view(strokeWidth=0)

chart.save("out.html", embed_options={"renderer": "svg", "actions": False})
